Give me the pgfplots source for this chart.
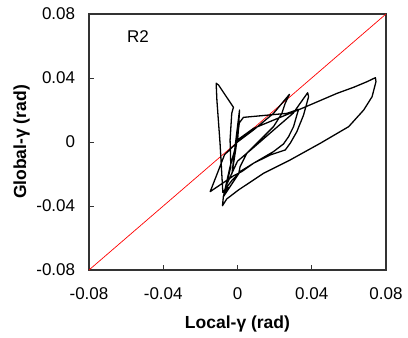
\documentclass[border=0pt]{standalone}
\usepackage{fontspec}
\setmainfont{Liberation Sans}
\usepackage{pgfplots}
\pgfplotsset{compat=1.18}
\begin{document}
\fontsize{17}{20}\selectfont
\begin{tikzpicture}
\begin{axis}[
  scale only axis, width=297pt, height=256pt,
  xmin=-0.08, xmax=0.08, ymin=-0.08, ymax=0.08,
  scaled ticks=false,
  xtick={-0.08,-0.04,0,0.04,0.08},
  ytick={-0.08,-0.04,0,0.04,0.08},
  xticklabels={-0.08,-0.04,0,0.04,0.08},
  yticklabels={-0.08,-0.04,0,0.04,0.08},
  tick align=inside, major tick length=5pt,
  xtick pos=bottom, ytick pos=left,
  axis line style={black!80, line width=1.2pt},
  tick style={black!80, line width=0.8pt},
  xticklabel style={font=\fontsize{17}{20}\selectfont, yshift=-12pt},
  yticklabel style={font=\fontsize{17}{20}\selectfont, xshift=-8pt},
  xlabel={\bfseries Local-γ (rad)},
  ylabel={\bfseries Global-γ (rad)},
  xlabel style={font=\fontsize{17.5}{20}\selectfont, yshift=-4pt},
  ylabel style={font=\fontsize{17.5}{20}\selectfont, yshift=-5pt},
  clip=true,
]
\addplot[red, line width=0.7pt] coordinates {(-0.08,-0.08) (0.08,0.08)};
\addplot[black, line width=1.3pt, line join=round] coordinates {
(0,0) (0.0005,0.008) (0.0011,0.020) (-0.001,0.0) (-0.003,-0.020) (-0.001,-0.005)
(0.001,0.012) (0.0032,0.0154) (0.0266,0.0179) (0.0329,0.0204) (0.032,0.0169)
(0.0302,0.0096) (0.0275,0.0033) (0.0248,-0.0012) (0.0194,-0.006) (0.0086,-0.0133)
(0.0023,-0.0185) (-0.002,-0.021) (-0.0147,-0.031) (-0.011,-0.020) (-0.007,-0.008)
(0,0) (0.0086,0.0075) (0.0194,0.0179) (0.028,0.0298) (0.0257,0.0242) (0.0239,0.0179)
(0.0194,0.0096) (0.0122,0.0013) (0.005,-0.0071) (0.0014,-0.0154) (0.0007,-0.0196)
(-0.003,-0.024) (-0.0079,-0.0315) (-0.0094,-0.0008) (-0.0111,0.0262) (-0.0115,0.0367)
(-0.0102,0.0356) (-0.0022,0.0217) (-0.0031,0.0179) (-0.004,0.0013) (-0.0036,-0.0154)
(-0.006,-0.027) (0.0,-0.012) (0.0086,-0.0035) (0.020,0.008) (0.030,0.018)
(0.0378,0.0308) (0.0383,0.0283) (0.0356,0.0169) (0.032,0.0065) (0.0284,-0.0008)
(0.0257,-0.005) (0.0176,-0.0081) (0.0086,-0.0133) (0.0014,-0.0185) (-0.0076,-0.0342)
(-0.004,-0.0154) (0,0.0013) (0.0086,0.0085) (0.0347,0.021) (0.0536,0.0304)
(0.0626,0.0342) (0.0698,0.0377) (0.0743,0.0402) (0.0746,0.0377) (0.0725,0.0283)
(0.068,0.020) (0.0599,0.0096) (0.0446,-0.0008) (0.0284,-0.0112) (0.014,-0.0196)
(0.0005,-0.030) (-0.0058,-0.0356) (-0.0081,-0.0398) (-0.0076,-0.034) (-0.005,-0.028)
};
\node[anchor=center, font=\fontsize{17}{20}\selectfont] at (axis cs:-0.0536,0.0659) {R2};
\end{axis}
\pgfresetboundingbox
\path (current axis.south west) ++(-89pt,-68pt) rectangle ++(408pt,338pt);
\end{tikzpicture}
\end{document}
